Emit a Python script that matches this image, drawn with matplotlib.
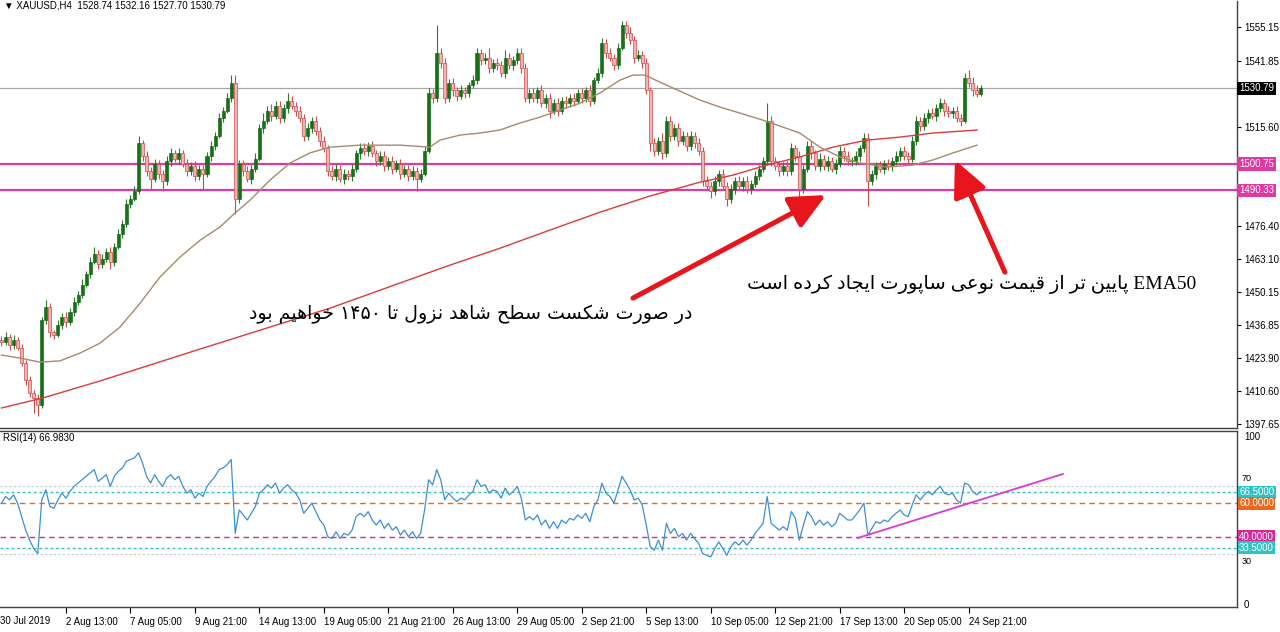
import matplotlib
matplotlib.use("Agg")
import matplotlib.pyplot as plt
import numpy as np

# ---------------- data ----------------
first_open = 1431.0
closes = [
    1430, 1432, 1429, 1431, 1428, 1422, 1415, 1410, 1408, 1405,
    1439, 1444, 1434, 1433, 1437, 1440, 1438, 1442, 1446, 1449,
    1453, 1457, 1462, 1465, 1461, 1463, 1466, 1462, 1468, 1473,
    1477, 1485, 1487, 1490, 1509, 1504, 1498, 1495, 1501, 1497,
    1494, 1502, 1505, 1503, 1505, 1501, 1498, 1500, 1496, 1499,
    1497, 1504, 1508, 1512, 1519, 1522, 1527, 1533, 1487, 1501,
    1498, 1495, 1499, 1503, 1515, 1518, 1522, 1520, 1524, 1519,
    1523, 1526, 1524, 1522, 1519, 1512, 1515, 1518, 1514, 1510,
    1507, 1498, 1496, 1499, 1495, 1497, 1496, 1499, 1505, 1507,
    1506, 1508, 1505, 1502, 1504, 1500, 1502, 1499, 1501, 1497,
    1499, 1496, 1498, 1495, 1497, 1506, 1529, 1527, 1545,
    1541, 1527, 1533, 1530, 1528, 1530, 1529, 1532, 1534, 1545,
    1542, 1543, 1539, 1541, 1540, 1537, 1543, 1540, 1542, 1545,
    1539, 1527, 1529, 1527, 1530, 1525, 1527, 1522, 1525, 1522,
    1526, 1525, 1527, 1526, 1529, 1527, 1530, 1526, 1534, 1537,
    1549, 1545, 1543, 1540, 1547, 1556, 1553, 1550, 1543, 1544,
    1541, 1530, 1509, 1506, 1510, 1505, 1518, 1512, 1515, 1510,
    1512, 1508, 1512, 1509, 1506, 1494, 1492, 1490, 1494, 1497,
    1492, 1487, 1491, 1494, 1492, 1494, 1491, 1493, 1496, 1499,
    1502, 1518, 1502, 1500, 1498, 1500, 1498, 1507, 1504, 1491,
    1499, 1508, 1505, 1500, 1503, 1500, 1502, 1499, 1501, 1506,
    1504, 1502, 1502, 1504, 1507, 1511, 1494, 1497, 1500,
    1499, 1501, 1500, 1502, 1504, 1506, 1504, 1503, 1510, 1518,
    1516, 1519, 1521, 1520, 1523, 1525, 1522, 1521, 1522, 1519,
    1518, 1535, 1533, 1530, 1528.74, 1530.79,
]
upper_wick = [
    1.5, 2, 1.5, 2, 1, 1.5, 1, 1.5, 1, 1.5,
    1, 3, 1.5, 1, 2, 1.5, 2, 1.5, 2, 1.5,
    2, 1.5, 2, 3, 1.5, 2, 1.5, 2, 1.5, 2,
    1.5, 2, 1.5, 2, 3, 1.5, 2, 1.5, 2, 1.5,
    1.5, 2, 2, 1.5, 2, 1.5, 2, 1.5, 2, 1.5,
    1.5, 1.5, 2, 1.5, 2, 1.5, 2, 3, 3, 1.5,
    1.5, 2, 1.5, 2, 1.5, 3, 2, 2.5, 2, 2,
    1.5, 3, 2, 1.5, 2, 1.5, 2, 1.5, 2, 1.5,
    2, 1.5, 2, 2, 1.5, 2, 1.5, 2, 1.5, 2,
    2, 1.5, 2, 1.5, 2, 2, 1.5, 2, 1.5, 2,
    1.5, 1.5, 2, 1.5, 2, 1.5, 2, 1.5, 11,
    2, 2, 1.5, 2, 1.5, 2, 1.5, 1.5, 2, 2,
    1.5, 2, 4, 1.5, 2, 1.5, 3, 2, 1.5, 2,
    2, 2, 1.5, 2, 1.5, 2, 1.5, 2, 1.5, 2,
    1.5, 2, 1.5, 2, 1.5, 2, 1.5, 2, 1.5, 2,
    2, 1.5, 2, 1.5, 2, 1.5, 1.5, 2, 1.5, 2,
    1.5, 2, 1.5, 2, 1.5, 3, 2, 2, 1.5, 2,
    2, 1.5, 2, 1.5, 2, 1.5, 2, 1.5, 2, 1.5,
    2, 1.5, 2, 1.5, 2, 1.5, 2, 1.5, 2, 1.5,
    1.5, 7, 2, 1.5, 2, 1.5, 2, 2, 1.5, 2,
    1.5, 2, 2, 1.5, 2, 1.5, 2, 1.5, 2, 2,
    1.5, 2, 1.5, 2, 1.5, 2, 2, 1.5, 1.5,
    2, 1.5, 2, 1.5, 2, 1.5, 2, 1.5, 2, 2,
    1.5, 2, 1.5, 2, 1.5, 2, 1.5, 2, 1.5, 2,
    1.5, 2, 3, 2.5, 2, 1.37,
]
lower_wick = [
    1.5, 1, 2, 1.5, 1, 1.5, 2, 1.5, 6, 4,
    1, 1.5, 2, 1.5, 1, 1.5, 2, 1, 1.5, 1,
    1.5, 1, 1.5, 1, 2, 1.5, 1, 3, 1.5, 1,
    1.5, 1, 1.5, 1, 1, 2, 2, 4, 1.5, 2,
    4, 1.5, 2, 1.5, 2, 1.5, 2, 1.5, 2, 1.5,
    6, 1.5, 2, 1.5, 1, 1.5, 1, 1.5, 6, 1.5,
    2, 1.5, 2, 1.5, 1, 2, 1.5, 2, 1.5, 2,
    1.5, 2, 1.5, 2, 1.5, 2, 1.5, 2, 1.5, 2,
    1.5, 2, 1.5, 2, 1.5, 2, 1.5, 2, 1.5, 2,
    1.5, 2, 1.5, 2, 1.5, 2, 1.5, 2, 1.5, 2,
    1.5, 2, 1.5, 5, 1.5, 1, 1, 2, 1.5,
    2, 2, 1.5, 2, 2, 1.5, 2, 1.5, 1, 1.5,
    2, 1.5, 2, 1.5, 2, 1.5, 2, 1.5, 2, 1.5,
    2, 1.5, 2, 1.5, 2, 1.5, 2, 3, 1.5, 2,
    1.5, 2, 1.5, 2, 1.5, 2, 1.5, 2, 1.5, 1,
    1.5, 2, 1.5, 2, 1.5, 1, 2, 1.5, 2, 1.5,
    2, 1.5, 3, 2, 1.5, 2, 1.5, 2, 1.5, 2,
    1.5, 2, 1.5, 2, 1.5, 2, 1.5, 2.5, 1.5, 2,
    1.5, 3, 1.5, 2, 1.5, 2, 1.5, 2, 1.5, 1.5,
    1.5, 1.5, 2, 1.5, 2, 1.5, 2, 1.5, 2, 5,
    1.5, 1.5, 2, 1.5, 2, 1.5, 2, 1.5, 2, 1.5,
    2, 1.5, 2, 1.5, 2, 1.5, 10, 1.5, 2,
    1.5, 2, 1.5, 2, 1.5, 2, 1.5, 2, 1.5, 1.5,
    2, 1.5, 2, 1.5, 2, 1.5, 2, 1.5, 2, 1.5,
    2, 1, 1.5, 2, 1.5, 1.04,
]
rsi_values = [
    60, 64, 62, 65, 60, 52, 44, 38, 33, 30,
    62, 68, 58, 57, 62, 66, 63, 67, 70, 72,
    74, 76, 78, 80, 73, 75, 77, 70, 76, 79,
    81, 85, 86, 87, 90, 84, 76, 72, 77, 73,
    70, 75, 77, 74, 76, 70, 66, 68, 63, 66,
    64, 70, 73, 76, 80, 81, 83, 86, 42, 56,
    53, 50, 54, 58, 66, 68, 71, 69, 72, 66,
    69, 71, 68, 66, 62, 54, 57, 60, 55, 50,
    47, 40, 39, 43, 39, 42, 41, 44, 52, 54,
    52, 55, 50, 47, 50, 45, 48, 44, 46, 41,
    44, 40, 43, 39, 42, 56, 74, 71, 80,
    74, 62, 66, 63, 61, 63, 62, 65, 67, 74,
    70, 71, 66, 68, 67, 63, 69, 65, 67, 70,
    63, 50, 52, 50, 53, 47, 50, 45, 49, 45,
    50, 48, 51, 50, 53, 51, 54, 49, 58, 62,
    72, 66, 64, 60, 68, 76, 72, 68, 62, 63,
    59, 47, 34, 32, 38, 32, 48, 42, 45, 40,
    42, 38, 42, 39, 36, 30, 29, 28, 33, 37,
    33, 29, 34, 37, 35, 38, 35, 38, 42, 45,
    48, 64, 48, 46, 44, 46, 44, 55, 51, 38,
    47, 55, 52, 47, 50, 47, 49, 46, 48, 54,
    52, 50, 50, 53, 56, 60, 41, 45, 49,
    48, 50, 49, 52, 54, 56, 53, 52, 59, 65,
    62, 65, 67, 65, 68, 70, 66, 65, 66, 62,
    60, 72, 71, 67, 65, 66.983,
]

ema50_idx = [0, 4.6, 9.6, 14.5, 19.5, 24.4, 29.4, 34.4, 39.3, 44.3, 49.3, 54.2,
             57.9, 61.7, 66.6, 71.6, 76.5, 81.5, 89.0, 98.9, 106.3, 108.8, 113.8,
             118.7, 123.7, 128.7, 133.6, 138.6, 143.6, 148.5, 153.5, 156.7, 159.7,
             163.4, 173.3, 178.3, 183.3, 189.0, 198.1, 203.1, 208.1, 213.0, 219.7,
             226.2, 231.1, 236.1, 242.1]
ema50_val = [1425.0, 1423.8, 1422.2, 1422.7, 1425.8, 1429.7, 1436.1, 1445.6, 1455.9,
             1463.9, 1470.6, 1475.8, 1481.3, 1486.5, 1494.4, 1501.2, 1505.2, 1507.5,
             1508.3, 1508.3, 1507.5, 1510.3, 1512.3, 1513.1, 1514.3, 1517.1, 1519.4,
             1522.2, 1525.0, 1529.0, 1534.1, 1536.1, 1536.1, 1533.3, 1526.2, 1523.4,
             1521.0, 1518.2, 1513.1, 1507.5, 1503.6, 1501.2, 1499.6, 1500.4, 1502.4,
             1505.2, 1508.3]
ema200_idx = [0, 10.3, 24.4, 49.3, 81.5, 98.9, 111.3, 123.7, 136.1, 148.5, 160.9,
              173.3, 181.5, 189.9, 198.1, 206.3, 214.8, 223.0, 231.1, 242.1]
ema200_val = [1404.0, 1408.0, 1414.7, 1427.4, 1443.6, 1453.6, 1460.7, 1467.4, 1474.6,
              1481.7, 1488.1, 1493.6, 1496.4, 1500.4, 1503.6, 1507.5, 1510.3, 1511.5,
              1513.1, 1514.3]

date_tick_idx = [16, 32, 48, 64, 80, 96, 112, 128, 144, 160, 176, 192, 208, 224, 240]
date_labels = ["2 Aug 13:00", "7 Aug 05:00", "9 Aug 21:00", "14 Aug 13:00", "19 Aug 05:00",
               "21 Aug 21:00", "26 Aug 13:00", "29 Aug 05:00", "2 Sep 21:00", "5 Sep 13:00",
               "10 Sep 05:00", "12 Sep 21:00", "17 Sep 13:00", "20 Sep 05:00", "24 Sep 21:00"]
first_date_label = "30 Jul 2019"

price_ticks = [1555.15, 1541.85, 1515.60, 1476.40, 1463.10, 1450.15, 1436.85,
               1423.90, 1410.60, 1397.65]
current_price = 1530.79
support_levels = [1500.75, 1490.33]
rsi_ticks = [0, 100]
rsi_minor_ticks = [70, 30]
rsi_marked_levels = [66.5, 60.0, 40.0, 33.5]
rsi_level_colors = ["#2ec4c4", "#e8691e", "#d8289a", "#2ec4c4"]
rsi_trend_idx = [212.5, 263.4]
rsi_trend_val = [39.3, 77.4]

header = "\u25bc XAUUSD,H4  1528.74 1532.16 1527.70 1530.79"
rsi_header = "RSI(14) 66.9830"
note_left = "در صورت شکست سطح شاهد نزول تا ۱۴۵۰ خواهیم بود"
note_right = "EMA50 پایین تر از قیمت نوعی ساپورت ایجاد کرده است"
arrow1 = ((156.7, 1447.6), (204.6, 1488.5))   # (tail, tip)
arrow2 = ((249.0, 1457.9), (236.6, 1502.4))

# ---------------- Persian shaping (visual order) ----------------
FORMS = {
    "\u0627": ("\uFE8D", "\uFE8E", None, None),
    "\u0628": ("\uFE8F", "\uFE90", "\uFE91", "\uFE92"),
    "\u067E": ("\uFB56", "\uFB57", "\uFB58", "\uFB59"),
    "\u062A": ("\uFE95", "\uFE96", "\uFE97", "\uFE98"),
    "\u062C": ("\uFE9D", "\uFE9E", "\uFE9F", "\uFEA0"),
    "\u062D": ("\uFEA1", "\uFEA2", "\uFEA3", "\uFEA4"),
    "\u062E": ("\uFEA5", "\uFEA6", "\uFEA7", "\uFEA8"),
    "\u062F": ("\uFEA9", "\uFEAA", None, None),
    "\u0631": ("\uFEAD", "\uFEAE", None, None),
    "\u0632": ("\uFEAF", "\uFEB0", None, None),
    "\u0633": ("\uFEB1", "\uFEB2", "\uFEB3", "\uFEB4"),
    "\u0634": ("\uFEB5", "\uFEB6", "\uFEB7", "\uFEB8"),
    "\u0635": ("\uFEB9", "\uFEBA", "\uFEBB", "\uFEBC"),
    "\u0637": ("\uFEC1", "\uFEC2", "\uFEC3", "\uFEC4"),
    "\u0639": ("\uFEC9", "\uFECA", "\uFECB", "\uFECC"),
    "\u0642": ("\uFED5", "\uFED6", "\uFED7", "\uFED8"),
    "\u06A9": ("\uFB8E", "\uFB8F", "\uFB90", "\uFB91"),
    "\u0644": ("\uFEDD", "\uFEDE", "\uFEDF", "\uFEE0"),
    "\u0645": ("\uFEE1", "\uFEE2", "\uFEE3", "\uFEE4"),
    "\u0646": ("\uFEE5", "\uFEE6", "\uFEE7", "\uFEE8"),
    "\u0647": ("\uFEE9", "\uFEEA", "\uFEEB", "\uFEEC"),
    "\u0648": ("\uFEED", "\uFEEE", None, None),
    "\u06CC": ("\uFBFC", "\uFBFD", "\uFBFE", "\uFBFF"),
}


def to_visual(s):
    out = []
    for k, ch in enumerate(s):
        if ch not in FORMS:
            out.append(ch)
            continue
        iso, fin, ini, med = FORMS[ch]
        prev = s[k - 1] if k > 0 else ""
        nxt = s[k + 1] if k + 1 < len(s) else ""
        cp = prev in FORMS and FORMS[prev][2] is not None
        cn = (nxt in FORMS) and ini is not None
        if cp and cn:
            out.append(med)
        elif cp:
            out.append(fin)
        elif cn:
            out.append(ini)
        else:
            out.append(iso)
    shaped = "".join(out)
    runs = []
    for ch in shaped:
        ltr = (ch.isascii() and ch != " ") or ("\u06F0" <= ch <= "\u06F9")
        if runs and runs[-1][0] == ltr:
            runs[-1][1].append(ch)
        else:
            runs.append([ltr, [ch]])
    res = []
    for ltr, chars in reversed(runs):
        res.append("".join(chars) if ltr else "".join(reversed(chars)))
    return "".join(res)


# ---------------- figure ----------------
W, H = 1280, 632
fig = plt.figure(figsize=(W / 100, H / 100), dpi=100)
fig.patch.set_facecolor("white")

ax = fig.add_axes([0, 1 - 428 / H, 1237 / W, 427 / H])
ax2 = fig.add_axes([0, 1 - 607 / H, 1237 / W, 176 / H])

n = len(closes)
idx = np.arange(n)
c = np.array(closes, dtype=float)
o = np.array([first_open] + closes[:-1], dtype=float)
hi = np.maximum(o, c) + np.array(upper_wick, dtype=float)
lo = np.minimum(o, c) - np.array(lower_wick, dtype=float)
bull = c >= o

xlim = (-0.37, 306.6)
edge = "#404040"
sans = ["Liberation Sans", "DejaVu Sans"]

# --- main panel ---
ax.axhline(current_price, color="#a8a8a8", lw=0.9, zorder=1)
for lvl in support_levels:
    ax.axhline(lvl, color="#e0399f", lw=1.6, zorder=1)

ax.plot(ema200_idx, ema200_val, color="#dd3a3a", lw=1.0, zorder=4)
ax.plot(ema50_idx, ema50_val, color="#a58b6c", lw=1.0, zorder=4)

ax.vlines(idx[bull], lo[bull], hi[bull], colors="#2a7d2a", lw=0.8, zorder=2)
ax.vlines(idx[~bull], lo[~bull], hi[~bull], colors="#cf4a4a", lw=0.8, zorder=2)
hb = np.maximum(c[bull] - o[bull], 0.25)
ax.bar(idx[bull], hb, bottom=o[bull], width=0.75, color="#157315",
       edgecolor="#0c5a0c", lw=0.4, zorder=3)
ax.bar(idx[~bull], o[~bull] - c[~bull], bottom=c[~bull], width=0.75,
       color="#f3b3b3", edgecolor="#cf4a4a", lw=0.5, zorder=3)

ax.set_xlim(*xlim)
ax.set_ylim(1396.06, 1565.5)
ax.set_xticks([])
ax.yaxis.tick_right()
ax.set_yticks(price_ticks)
ax.set_yticklabels([f"{p:.2f}" for p in price_ticks])
ax.tick_params(axis="y", direction="out", length=3, width=0.8, pad=2,
               labelsize=7, colors="black")
for sp in ["left", "top"]:
    ax.spines[sp].set_visible(False)
for sp in ["right", "bottom"]:
    ax.spines[sp].set_color(edge)
    ax.spines[sp].set_linewidth(1.0)

ylab = ax.get_yaxis_transform()
ax.text(1.0 + 2 / 1237, current_price, f"{current_price:.2f}", transform=ylab,
        ha="left", va="center", fontsize=7, color="white", zorder=10, clip_on=False,
        family=sans, bbox=dict(boxstyle="square,pad=0.18", fc="black", ec="none"))
for lvl in support_levels:
    ax.text(1.0 + 2 / 1237, lvl, f"{lvl:.2f}", transform=ylab, ha="left", va="center",
            fontsize=7, color="white", zorder=10, clip_on=False, family=sans,
            bbox=dict(boxstyle="square,pad=0.18", fc="#e0399f", ec="none"))

# annotations
ax.text(116.5, 1441.3, to_visual(note_left), ha="center", va="center", fontsize=13.7,
        family=["DejaVu Sans"], color="black", zorder=6)
ax.text(240.8, 1453.2, to_visual(note_right), ha="center", va="center", fontsize=14,
        family=["Liberation Serif", "DejaVu Sans"], color="black", zorder=6)
for tail, tip in (arrow1, arrow2):
    ax.annotate("", xy=tip, xytext=tail, zorder=7,
                arrowprops=dict(arrowstyle="-|>,head_length=0.95,head_width=0.45",
                                mutation_scale=23, lw=3.6, color="#e8161c",
                                shrinkA=0, shrinkB=0))

# --- RSI panel ---
for lvl in rsi_minor_ticks:
    ax2.axhline(lvl, color="#c8c8c8", lw=0.8, ls=(0, (2, 2)), zorder=1)
for lvl, col in zip(rsi_marked_levels, rsi_level_colors):
    ls = (0, (2, 2)) if col == "#2ec4c4" else (0, (4, 3))
    ax2.axhline(lvl, color=col, lw=1.0, ls=ls, zorder=1)
ax2.plot(idx, rsi_values, color="#3b8fd6", lw=0.9, zorder=3)
ax2.plot(rsi_trend_idx, rsi_trend_val, color="#d83ad8", lw=1.3, zorder=4)

ax2.set_xlim(*xlim)
ax2.set_ylim(-1.8, 103)
ax2.yaxis.tick_right()
ax2.set_yticks(rsi_ticks)
ax2.set_yticklabels([str(t) for t in rsi_ticks])
ax2.tick_params(axis="y", direction="out", length=0, pad=5, labelsize=7)
ax2.set_xticks(date_tick_idx)
ax2.set_xticklabels(date_labels, ha="left")
ax2.tick_params(axis="x", direction="out", length=4, width=0.8, pad=3, labelsize=7)
ax2.spines["left"].set_visible(False)
for sp in ["right", "bottom", "top"]:
    ax2.spines[sp].set_color(edge)
    ax2.spines[sp].set_linewidth(1.0)
ax2.text(0, -14.5 / 176, first_date_label, transform=ax2.transAxes, ha="left",
         va="center", fontsize=7, family=sans)

ylab2 = ax2.get_yaxis_transform()
# 70 / 30 labels peek out just above / below the coloured level boxes
ax2.text(1.0 + 5 / 1237, rsi_minor_ticks[0] + 2.2, str(rsi_minor_ticks[0]), transform=ylab2,
         ha="left", va="bottom", fontsize=6.5, family=sans, clip_on=False, zorder=2)
ax2.text(1.0 + 5 / 1237, rsi_minor_ticks[1] - 2.2, str(rsi_minor_ticks[1]), transform=ylab2,
         ha="left", va="top", fontsize=6.5, family=sans, clip_on=False, zorder=2)
for lvl, col in zip(rsi_marked_levels, rsi_level_colors):
    ax2.text(1.0 + 2 / 1237, lvl, f"{lvl:.4f}", transform=ylab2, ha="left",
             va="center", fontsize=7, color="white", zorder=10, clip_on=False,
             family=sans, bbox=dict(boxstyle="square,pad=0.15", fc=col, ec="none"))

for a in (ax, ax2):
    for lab in a.get_xticklabels() + a.get_yticklabels():
        lab.set_family(sans)

fig.text(4 / W, 1 - 6 / H, header, ha="left", va="center", fontsize=7, family=sans)
fig.text(3 / W, 1 - 438 / H, rsi_header, ha="left", va="center", fontsize=7, family=sans)

fig.savefig("out.png", dpi=100, facecolor="white")
